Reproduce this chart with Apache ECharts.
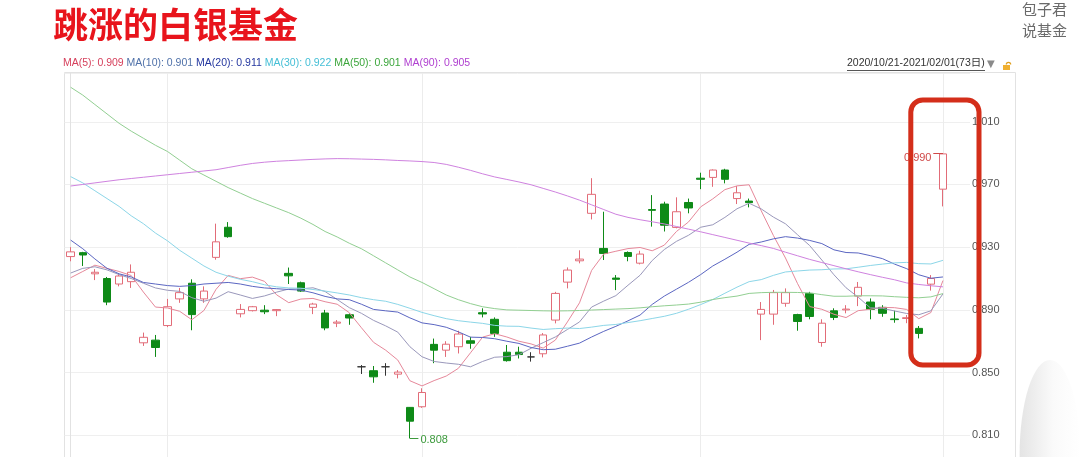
<!DOCTYPE html>
<html><head><meta charset="utf-8">
<script src="https://cdn.jsdelivr.net/npm/echarts@6/dist/echarts.min.js"></script>
<style>html,body{margin:0;padding:0;background:#fff;overflow:hidden;height:457px;}#c{width:1080px;height:505px;}</style>
</head><body><div id="c"></div>
<script>
const dates = ['2020/10/21','2020/10/22','2020/10/23','2020/10/26','2020/10/27','2020/10/28','2020/10/29','2020/10/30',
'2020/11/02','2020/11/03','2020/11/04','2020/11/05','2020/11/06','2020/11/09','2020/11/10','2020/11/11','2020/11/12','2020/11/13','2020/11/16','2020/11/17','2020/11/18','2020/11/19','2020/11/20','2020/11/23','2020/11/24','2020/11/25','2020/11/26','2020/11/27','2020/11/30',
'2020/12/01','2020/12/02','2020/12/03','2020/12/04','2020/12/07','2020/12/08','2020/12/09','2020/12/10','2020/12/11','2020/12/14','2020/12/15','2020/12/16','2020/12/17','2020/12/18','2020/12/21','2020/12/22','2020/12/23','2020/12/24','2020/12/25','2020/12/28','2020/12/29','2020/12/30','2020/12/31',
'2021/01/04','2021/01/05','2021/01/06','2021/01/07','2021/01/08','2021/01/11','2021/01/12','2021/01/13','2021/01/14','2021/01/15','2021/01/18','2021/01/19','2021/01/20','2021/01/21','2021/01/22','2021/01/25','2021/01/26','2021/01/27','2021/01/28','2021/01/29',
'2021/02/01'];

const open = [0.924,0.9265,0.913,0.910,0.9065,0.908,0.869,0.8707,0.880,0.897,0.907,0.897,0.9235,0.9427,0.8875,0.8895,0.8898,0.8895,0.9133,0.9073,0.8916,0.888,0.8815,0.8869,0.8537,0.8512,0.8537,0.849,0.8278,0.8282,0.868,0.8643,0.8665,0.8703,0.8882,0.884,0.863,0.863,0.860,0.862,0.8835,0.9077,0.9213,0.9516,0.9292,0.9103,0.9266,0.9198,0.954,0.9575,0.9426,0.9585,0.974,0.9745,0.9792,0.961,0.9594,0.8873,0.8873,0.8942,0.887,0.9005,0.8692,0.8894,0.890,0.8988,0.895,0.8916,0.8842,0.8845,0.8782,0.9064,0.967];
const close = [0.927,0.925,0.914,0.895,0.9116,0.914,0.8725,0.866,0.892,0.901,0.887,0.902,0.9334,0.9367,0.8903,0.892,0.8888,0.8902,0.9117,0.902,0.8937,0.8785,0.8822,0.8848,0.8537,0.8473,0.8537,0.8503,0.819,0.8373,0.8643,0.8681,0.8746,0.8687,0.8874,0.875,0.8576,0.8615,0.860,0.874,0.9005,0.9154,0.9224,0.9637,0.926,0.9095,0.9241,0.9256,0.9535,0.944,0.9526,0.955,0.9733,0.9792,0.9733,0.9647,0.9584,0.8903,0.901,0.901,0.8826,0.8858,0.8815,0.8852,0.8905,0.9044,0.8903,0.8878,0.8838,0.885,0.875,0.910,0.9895];
const low = [0.921,0.918,0.909,0.893,0.905,0.904,0.867,0.860,0.879,0.8945,0.877,0.8945,0.922,0.936,0.8852,0.889,0.8873,0.886,0.9065,0.9015,0.8873,0.877,0.879,0.8805,0.8491,0.8435,0.848,0.8463,0.808,0.8275,0.856,0.860,0.8622,0.8652,0.8852,0.8728,0.857,0.859,0.857,0.8597,0.8814,0.9037,0.9197,0.9477,0.9218,0.9026,0.921,0.919,0.9431,0.940,0.942,0.9516,0.967,0.9685,0.9707,0.9575,0.9554,0.8707,0.8805,0.892,0.8767,0.884,0.8665,0.8835,0.8878,0.8924,0.884,0.8856,0.8818,0.8815,0.8718,0.9023,0.956];
const high = [0.930,0.927,0.916,0.911,0.9135,0.919,0.8755,0.874,0.897,0.904,0.9095,0.905,0.945,0.946,0.8937,0.8925,0.893,0.8905,0.917,0.908,0.8945,0.890,0.8835,0.8878,0.8548,0.8542,0.856,0.8516,0.828,0.840,0.8717,0.870,0.8767,0.8728,0.891,0.8852,0.8676,0.8665,0.863,0.8752,0.9015,0.9171,0.928,0.974,0.9526,0.9122,0.9273,0.9277,0.9632,0.959,0.9618,0.961,0.9775,0.9796,0.980,0.969,0.961,0.895,0.9027,0.9037,0.8875,0.9015,0.884,0.891,0.893,0.9078,0.8973,0.893,0.8895,0.8867,0.8797,0.9122,0.990];

const ma5 = [0.9105,0.9145,0.9185,0.9165,0.9145,0.9119,0.9014,0.8918,0.8912,0.8891,0.8837,0.8896,0.9031,0.912,0.9099,0.9109,0.9082,0.8996,0.8946,0.8969,0.8973,0.8952,0.8936,0.8882,0.8786,0.8693,0.8643,0.858,0.8448,0.8415,0.8449,0.8478,0.8527,0.8626,0.8726,0.8748,0.8727,0.87,0.8683,0.8656,0.8707,0.8823,0.8945,0.9152,0.9256,0.9274,0.9291,0.9298,0.9277,0.9313,0.94,0.9461,0.9557,0.9608,0.9667,0.9691,0.9698,0.9532,0.9375,0.9231,0.9067,0.8921,0.8904,0.8872,0.8851,0.8895,0.8904,0.8916,0.8914,0.8903,0.8844,0.8883,0.9087];
const ma10 = [0.9135,0.9165,0.9175,0.9155,0.9125,0.910,0.907,0.904,0.9025,0.9018,0.8978,0.8955,0.8975,0.9016,0.8995,0.8973,0.8989,0.9013,0.9033,0.9034,0.9041,0.9017,0.8966,0.8914,0.8878,0.8833,0.8798,0.8758,0.8665,0.8601,0.8571,0.8561,0.8553,0.8537,0.8571,0.8598,0.8602,0.8614,0.8655,0.8691,0.8727,0.8775,0.8823,0.8918,0.8956,0.8991,0.9057,0.9121,0.9215,0.9285,0.9337,0.9376,0.9427,0.9443,0.949,0.9545,0.958,0.9544,0.9492,0.9449,0.9379,0.931,0.9218,0.9124,0.9041,0.8981,0.8913,0.891,0.8893,0.8877,0.8869,0.8894,0.9002];
const ma20 = [0.9345,0.929,0.9225,0.9165,0.913,0.911,0.9075,0.9065,0.9055,0.905,0.9055,0.9065,0.907,0.9075,0.9065,0.905,0.904,0.9035,0.903,0.9026,0.9009,0.8986,0.897,0.8965,0.8936,0.8903,0.8894,0.8886,0.8849,0.8817,0.8806,0.8789,0.876,0.8726,0.8724,0.8716,0.87,0.8686,0.866,0.8646,0.8649,0.8668,0.8688,0.8727,0.8763,0.8795,0.883,0.8867,0.8935,0.8988,0.9032,0.9076,0.9125,0.918,0.9223,0.9268,0.9318,0.9333,0.9353,0.9367,0.9358,0.9343,0.9323,0.9283,0.9266,0.9263,0.9246,0.9227,0.9192,0.9163,0.9124,0.9102,0.911];
const ma30 = [0.975,0.971,0.966,0.961,0.956,0.950,0.945,0.939,0.934,0.928,0.923,0.918,0.914,0.9115,0.9095,0.908,0.906,0.9047,0.904,0.9038,0.903,0.902,0.9008,0.8995,0.8978,0.8965,0.8955,0.8935,0.891,0.8884,0.8863,0.8844,0.8831,0.8822,0.8814,0.8801,0.8796,0.8795,0.8784,0.8775,0.878,0.8784,0.8781,0.879,0.8801,0.8807,0.8819,0.8831,0.8845,0.8859,0.8878,0.8904,0.8934,0.8966,0.9006,0.9045,0.908,0.9093,0.912,0.9142,0.9148,0.9154,0.9156,0.9161,0.9162,0.9172,0.9183,0.9192,0.92,0.9203,0.9195,0.9193,0.9216];
const ma50 = [1.032,1.027,1.021,1.015,1.009,1.004,0.9995,0.995,0.991,0.9855,0.980,0.976,0.972,0.968,0.9645,0.961,0.958,0.955,0.952,0.9485,0.9445,0.940,0.9365,0.9325,0.929,0.9245,0.920,0.9155,0.911,0.9075,0.9035,0.8995,0.8965,0.894,0.892,0.8908,0.890,0.8898,0.8896,0.8894,0.8893,0.8894,0.8896,0.8899,0.8902,0.8905,0.8908,0.8913,0.892,0.8926,0.8931,0.8937,0.8949,0.8966,0.8978,0.8988,0.9005,0.901,0.9012,0.9012,0.9011,0.9008,0.8997,0.8987,0.8987,0.899,0.899,0.8989,0.8984,0.898,0.8977,0.8983,0.9004];
const ma90 = [0.969,0.970,0.971,0.972,0.973,0.9738,0.9746,0.9754,0.9762,0.977,0.9778,0.9786,0.9794,0.9808,0.9822,0.9834,0.9842,0.9848,0.9852,0.9856,0.986,0.9863,0.9865,0.9864,0.9862,0.986,0.9857,0.9853,0.985,0.9846,0.984,0.9828,0.981,0.979,0.9768,0.9748,0.9732,0.9716,0.9698,0.9675,0.9652,0.9627,0.96,0.957,0.954,0.951,0.949,0.9475,0.9462,0.9448,0.9432,0.9415,0.9398,0.938,0.9362,0.9344,0.9326,0.931,0.9292,0.9268,0.9245,0.9222,0.9202,0.9182,0.9162,0.9143,0.9125,0.9108,0.9092,0.9072,0.9062,0.9054,0.9047];

const maNames = ['MA(5)','MA(10)','MA(20)','MA(30)','MA(50)','MA(90)'];
const maLast = ['0.909','0.901','0.911','0.922','0.901','0.905'];
const yTicks = [0.810,0.850,0.890,0.930,0.970,1.010];
const yStep = 0.04;

const maData = [ma5, ma10, ma20, ma30, ma50, ma90];
const maLineColors = ['#e6889a','#9a98bb','#5b66c2','#8cd6e8','#92cf92','#cf82df'];
const maTextColors = ['#d6405c','#4f71a9','#23369f','#45bfd6','#3ca63c','#b040d0'];

const chart = echarts.init(document.getElementById('c'));
const candle = dates.map((d, i) => [i, open[i], close[i], low[i], high[i]]);
const toPts = arr => arr.map((v, i) => [i, v]);
const monthStarts = dates.map((d, i) => (i > 0 && d.slice(0, 7) !== dates[i - 1].slice(0, 7)) ? i : -1).filter(i => i >= 0);
let iHi = 0, iLo = 0;
high.forEach((v, i) => { if (v > high[iHi]) iHi = i; });
low.forEach((v, i) => { if (v < low[iLo]) iLo = i; });

const rich = {};
let legendText = '';
maNames.forEach((n, k) => {
  rich['m' + k] = { fill: maTextColors[k], font: '10.5px "Liberation Sans", Arial, sans-serif' };
  legendText += '{m' + k + '|' + n + ': ' + maLast[k] + '}' + (k < maNames.length - 1 ? ' ' : '');
});

const lineSeries = maNames.map((n, k) => ({
  type: 'line', name: n, data: toPts(maData[k]), symbol: 'none', z: 3, silent: true,
  lineStyle: { width: 1, color: maLineColors[k] }
}));
lineSeries[5].markLine = {
  silent: true, symbol: ['none', 'none'], z: 1, label: { show: false },
  lineStyle: { color: '#ececec', type: 'solid', width: 1 },
  data: monthStarts.map(i => ({ xAxis: i }))
};

chart.setOption({
  animation: false,
  backgroundColor: '#ffffff',
  grid: { left: 64.6, top: 73, width: 905.4, height: 425, containLabel: false },
  xAxis: { type: 'value', min: -0.5, max: 74.23, show: false },
  yAxis: {
    type: 'value', position: 'right', min: yTicks[0] - yStep, max: 1.0411, interval: yStep,
    axisLine: { show: true, lineStyle: { color: '#e2e2e2' } },
    axisTick: { show: false },
    axisLabel: {
      margin: 2, color: '#555', fontSize: 11, fontFamily: '"Liberation Sans", Arial, sans-serif',
      showMaxLabel: false,
      formatter: v => { const t = yTicks.find(x => Math.abs(x - v) < 1e-6); return t != null ? t.toFixed(3) : ''; }
    },
    splitLine: { show: true, lineStyle: { color: '#efefef' } }
  },
  series: [
    {
      type: 'candlestick', z: 2, barWidth: 8, data: candle,
      itemStyle: { color: '#ffffff', color0: '#0e8a17', borderColor: '#e26c78', borderColor0: '#0e8a17', borderColorDoji: '#333333', borderWidth: 1 },
      markPoint: {
        silent: true, symbol: 'rect', symbolSize: 1, itemStyle: { color: 'rgba(0,0,0,0)' },
        data: [
          { coord: [iHi, high[iHi]], value: high[iHi],
            label: { show: true, position: 'left', distance: 11, offset: [0, 5], formatter: p => p.value.toFixed(3), color: '#d04848', fontSize: 11, fontFamily: '"Liberation Sans", Arial' } },
          { coord: [iLo, low[iLo]], value: low[iLo],
            label: { show: true, position: 'right', distance: 10, offset: [0, 2], formatter: p => p.value.toFixed(3), color: '#3c9a3c', fontSize: 11, fontFamily: '"Liberation Sans", Arial' } }
        ]
      },
      markLine: {
        silent: true, symbol: ['none', 'none'], label: { show: false },
        data: [
          [{ coord: [iHi, high[iHi]], lineStyle: { color: '#d04848', width: 1, type: 'solid' } }, { coord: [iHi - 0.8, high[iHi]] }],
          [{ coord: [iLo, low[iLo]], lineStyle: { color: '#3c9a3c', width: 1, type: 'solid' } }, { coord: [iLo + 0.7, low[iLo]] }]
        ]
      }
    }
  ].concat(lineSeries),
  graphic: [
    { type: 'rect', silent: true, z: 0, shape: { x: 64.5, y: 72.5, width: 951, height: 430 }, style: { fill: 'none', stroke: '#e2e2e2', lineWidth: 1 } },
    { type: 'text', left: 53, top: 7, silent: true, style: { text: '跳涨的白银基金', font: 'bold 35px "Noto Sans CJK SC", sans-serif', fill: '#e8141c' } },
    { type: 'text', left: 1022, top: -1, silent: true, style: { text: '包子君\n说基金', font: '15px "Noto Sans CJK SC", sans-serif', fill: '#6a6a6a', lineHeight: 21 } },
    { type: 'text', left: 63, top: 58, silent: true, style: { text: legendText, rich: rich, font: '10.5px "Liberation Sans", Arial, sans-serif' } },
    { type: 'text', left: 847, top: 58, silent: true, style: { text: '2020/10/21-2021/02/01(73日)', font: '10.5px "Liberation Sans", "Noto Sans CJK SC", sans-serif', fill: '#333' } },
    { type: 'line', silent: true, shape: { x1: 847, y1: 70.5, x2: 985, y2: 70.5 }, style: { stroke: '#555', lineWidth: 1 } },
    { type: 'text', left: 987, top: 59, silent: true, style: { text: '▼', font: '10px "DejaVu Sans", sans-serif', fill: '#8a8a8a' } },
    { type: 'rect', silent: true, shape: { x: 1003, y: 65, width: 7, height: 5 }, style: { fill: '#f0b030' } },
    { type: 'arc', silent: true, shape: { cx: 1008.5, cy: 64.5, r: 2.2, startAngle: Math.PI, endAngle: 2 * Math.PI }, style: { stroke: '#e0a020', lineWidth: 1.2, fill: 'none' } },
    { type: 'circle', silent: true, x: 1050, y: 455, scaleX: 0.32, shape: { cx: 0, cy: 0, r: 95 },
      style: { fill: new echarts.graphic.LinearGradient(0, 0, 1, 0, [{ offset: 0, color: '#e4e4e4' }, { offset: 0.55, color: '#fafafa' }, { offset: 1, color: '#ffffff' }]) } },
    { type: 'rect', silent: true, z: 100, shape: { x: 910.8, y: 100, width: 68.2, height: 265, r: 12 }, style: { fill: 'none', stroke: '#d42e1a', lineWidth: 5 } }
  ]
});
</script></body></html>
